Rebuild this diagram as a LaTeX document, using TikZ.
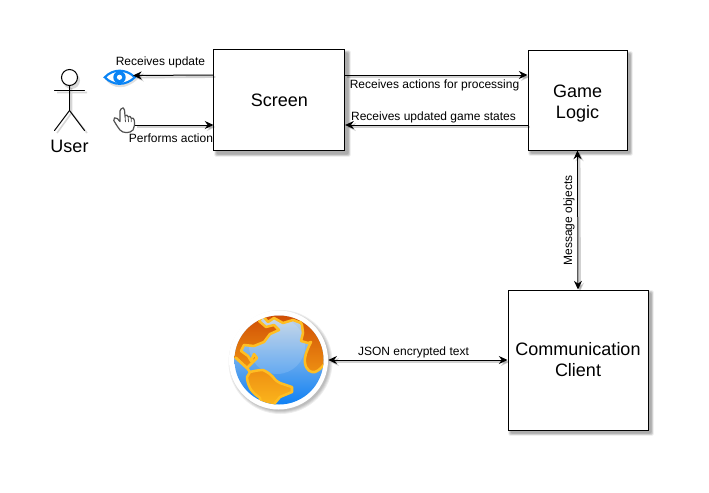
\documentclass[tikz,border=0pt]{standalone}
\usepackage{fontspec}
\setmainfont{Liberation Sans}
\usetikzlibrary{arrows.meta,calc}
\definecolor{eyeblue}{HTML}{0A84F5}
\definecolor{globehi}{HTML}{C6D5E6}
\definecolor{globelo}{HTML}{0E80F4}
\definecolor{landdark}{HTML}{CC4604}
\definecolor{landmid}{HTML}{EE9012}
\definecolor{landlow}{HTML}{FDBB1E}
\definecolor{landedge}{HTML}{FFBE22}
\newcommand{\softshadow}[4]{%
  \foreach \g in {0.5,1.2,1.9,2.6}{%
    \fill[black,opacity=.09,rounded corners=1pt] ($(#1,#2)+(3-\g,3-\g)$) rectangle ($(#3,#4)+(3+\g,3+\g)$);}}
\tikzset{
  x=0.75pt,y=-0.75pt,
  block/.style={draw=black,line width=0.75pt,fill=white,inner sep=0pt,align=center,font=\fontsize{13.5pt}{15.75pt}\selectfont},
  lbl/.style={inner sep=0pt,font=\fontsize{9pt}{10pt}\selectfont},
  conn/.style={line width=0.75pt,draw=black,-{Stealth[length=6.5pt,width=6pt]}},
  bothconn/.style={line width=0.75pt,draw=black,{Stealth[length=6.5pt,width=6pt]}-{Stealth[length=6.5pt,width=6pt]}},
  lineshade/.style={preaction={draw=black,opacity=.18,line width=1.4pt,transform canvas={xshift=1.5pt,yshift=-1.5pt}}},
  stick/.style={draw=black,line width=0.75pt,line cap=round},
  land/.style={draw=landedge,line width=1.9pt,line join=round},
}
\begin{document}
\begin{tikzpicture}
\useasboundingbox (0,0) rectangle (709,492);
\fill[white] (0,0) rectangle (709,492);

% soft shadows
\softshadow{214}{50}{345}{151}
\softshadow{528}{51}{627}{150}
\softshadow{508}{290}{648}{430}

% blocks
\node[block,minimum width=98pt,minimum height=75pt] (screen) at (279.3,100) {Screen};
\node[block,minimum width=74.25pt,minimum height=74.25pt] (game) at (577.5,100.5) {\rule{0pt}{14.5pt}Game\\Logic};
\node[block,minimum width=105pt,minimum height=105pt] (client) at (578,360) {Communication\\Client};

% user figure
\fill[black,opacity=.15] (71.5,80.5) circle (8.5);
\draw[black,opacity=.16,line width=1.2pt] (71.5,88) -- (71.5,113) -- (57,133) (71.5,113) -- (87,133) (57,92.5) -- (87,92.5);
\draw[stick,fill=white] (69.5,77.5) circle (8);
\draw[stick] (69.5,85.5) -- (69.5,110.5) coordinate (hip) -- (54.5,130.5);
\draw[stick] (hip) -- (84.5,130.5);
\draw[stick] (54.5,90) -- (84.5,90);
\node[inner sep=0pt,font=\fontsize{13.5pt}{16pt}\selectfont] (user) at (69.5,146.5) {User};

% eye icon
\node[inner sep=0pt,minimum width=24.5pt,minimum height=12pt] (eye) at (119.5,77.3) {};
\fill[black,opacity=.12] (105,79) .. controls (113,68) and (126,68) .. (138,79) .. controls (126,90) and (113,90) .. (105,79) -- cycle;
\filldraw[eyeblue,fill=white,line width=1.6pt,line join=miter] (104.8,77.3) .. controls (113,68.5) and (126,68.5) .. (134.8,77.3) .. controls (126,86) and (113,86) .. (104.8,77.3) -- cycle;
\fill[eyeblue] (119.5,77.3) circle (6.2);
\fill[white] (119.5,77.3) circle (2.6);

% hand icon
\node[inner sep=0pt,minimum width=16.5pt,minimum height=19pt] (hand) at (124,120.5) {};
\filldraw[fill=white,draw=black!68,line width=0.9pt,line join=round]
  (121,109) .. controls (122,107) and (124.5,107.5) .. (124.5,110)
  -- (125,116) .. controls (126,114.5) and (128,115) .. (128.2,116.8)
  .. controls (129.5,115.8) and (131,116.3) .. (131.2,118.2)
  .. controls (132.5,117.5) and (134,118.2) .. (134.2,120)
  .. controls (135,124) and (134.5,127) .. (133,130)
  .. controls (130,133.5) and (123,133.5) .. (120,130)
  .. controls (118,127.5) and (115.5,123.5) .. (113.8,120.5)
  .. controls (112.8,118) and (115.5,116.5) .. (117.2,118.5)
  -- (120,121.5) -- (120,111) .. controls (120,110) and (120.5,109.5) .. (121,109) -- cycle;
\draw[black!68,line width=0.6pt] (125,116) -- (125.5,122) (128.2,116.8) -- (128.5,122) (131.2,118.2) -- (131.3,122);

% globe
\foreach \r in {49,50,51,52}{\fill[black,opacity=.07] (280.5,362) circle (\r);}
\node[circle,fill=white,minimum size=74.25pt,inner sep=0pt] (globenode) at (278.5,360) {};
\begin{scope}
  \clip (279,360) circle (44.5);
  \shade[top color=globehi,bottom color=globelo] (234,315) rectangle (324,405);
  \fill[white,opacity=.13] (277,346) circle (28);
  % north america with the northern coast
  \path[land,top color=landdark,bottom color=landmid]
    (225,358) -- (236,358) -- (247,368) -- (257,358) -- (254,354) -- (251,361) -- (248,356)
    -- (241,351) -- (244,345) -- (254,346) -- (264,342) -- (270,334) -- (279,330) -- (274,325)
    -- (266,327) -- (259,321) -- (263,316) -- (268,322) -- (274,318) -- (283,323) -- (293,320)
    -- (301,323) -- (300,308) -- (225,308) -- cycle;
  % eastern continent
  \path[land,top color=landdark,bottom color=landmid]
    (300,308) -- (301,323) -- (302,325) -- (303,333) -- (301,341) -- (308,343) -- (311,342)
    .. controls (306,352) and (304,358) .. (305,363)
    .. controls (306,370) and (311,373) .. (315,372)
    .. controls (320,370) and (322,367) .. (326,362) -- (332,308) -- cycle;
  % south america
  \path[land,top color=landmid,bottom color=landlow]
    (250,372) .. controls (254,371) and (259,370) .. (263,370)
    .. controls (268,372) and (271,375) .. (273,377)
    .. controls (276,381) and (278,382) .. (280,383)
    -- (292,387) -- (292,392) -- (280,397) -- (275,403) -- (273,410) -- (262,410)
    -- (260,398) .. controls (254,394) and (251,390) .. (250,388)
    .. controls (248,384) and (247,380) .. (247,377) -- cycle;
  \draw[land] (236,358) -- (247,368) -- (250,372);
\end{scope}

% free ends
\coordinate (eyeEnd) at (133,75.5);
\coordinate (handEnd) at (135,125);

% connectors
\draw[conn,lineshade] (screen.west |- 0,75) -- (eyeEnd);
\draw[conn,lineshade] (handEnd) -- (screen.west |- 0,125);
\draw[conn,lineshade] (screen.east |- 0,75) -- (game.west |- 0,75);
\draw[conn,lineshade] (game.west |- 0,125) -- (screen.east |- 0,125);
\draw[bothconn,lineshade] (game.south) -- (client.north);
\draw[bothconn,lineshade] (globenode.east |- client.west) -- (client.west);

% labels
\node[lbl] (l1) at (160.5,62.7) {Receives update};
\node[lbl] (l2) at (171,138.5) {Performs action};
\node[lbl] (l3) at (434.5,85.3) {Receives actions for processing};
\node[lbl] (l4) at (433.5,117) {Receives updated game states};
\node[lbl,rotate=90] (l5) at (569,220.5) {Message objects};
\node[lbl] (l6) at (413.5,352.7) {JSON encrypted text};
\end{tikzpicture}
\end{document}
